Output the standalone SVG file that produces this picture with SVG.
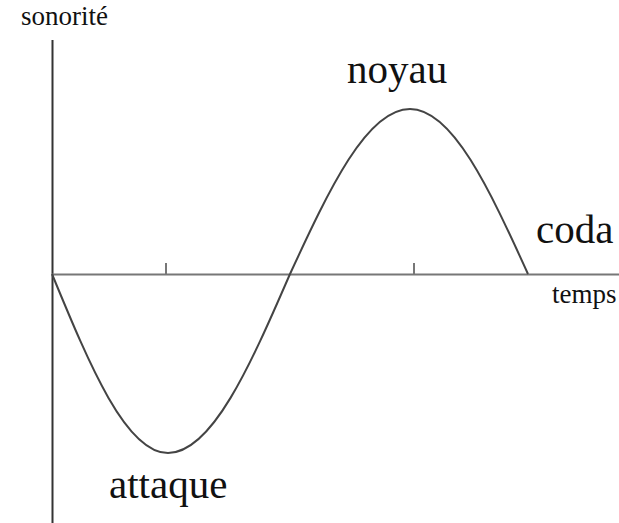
<svg xmlns="http://www.w3.org/2000/svg" width="619" height="523" viewBox="0 0 619 523">
  <style>
    .lbl { font-family: "Liberation Serif", "Times New Roman", serif; fill: #111; }
    .big { font-size: 41px; }
    .small { font-size: 27px; }
    .axis { stroke: #333; stroke-width: 2; fill: none; }
    .haxis { stroke: #777; stroke-width: 2; fill: none; }
    .curve { stroke: #444; stroke-width: 2; fill: none; }
  </style>
  <rect width="619" height="523" fill="#fff"/>
  <g id="axes">
    <line class="axis" x1="52.5" y1="40" x2="52.5" y2="523"/>
    <line class="haxis" x1="52" y1="274.5" x2="619" y2="274.5"/>
    <line class="haxis" x1="166" y1="263" x2="166" y2="274"/>
    <line class="haxis" x1="414" y1="263" x2="414" y2="274"/>
  </g>
  <g id="curve">
    <path class="curve" d="M52,274 C89.8,365.7 126.2,453 168,453 C211.9,453 250.2,365.7 290,274 C329.1,189.5 366.8,109 410,109 C452.5,109 489.5,189.5 528,274"/>
  </g>
  <g id="labels">
    <text class="lbl small" x="21" y="25">sonorité</text>
    <text class="lbl small" x="552" y="303">temps</text>
    <text class="lbl big" x="347" y="83">noyau</text>
    <text class="lbl big" x="536" y="243">coda</text>
    <text class="lbl big" x="109" y="498">attaque</text>
  </g>
</svg>
